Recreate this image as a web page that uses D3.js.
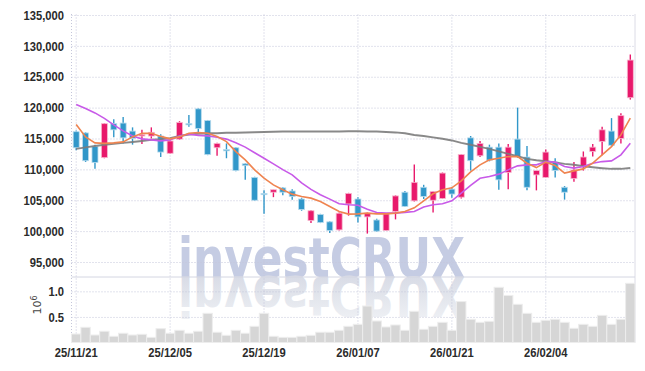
<!DOCTYPE html>
<html>
<head>
<meta charset="utf-8">
<script src="https://cdn.jsdelivr.net/npm/d3@7"></script>
<style>
  body { margin: 0; background: #fff; }
  svg { display: block; }
</style>
</head>
<body>
<div id="chart-area"></div>
<script>
// trading days (yy/mm/dd)
var dates = ["25/11/21", "25/11/24", "25/11/25", "25/11/26", "25/11/27", "25/11/28", "25/12/01", "25/12/02", "25/12/03", "25/12/04",
  "25/12/05", "25/12/08", "25/12/09", "25/12/10", "25/12/11", "25/12/12", "25/12/15", "25/12/16", "25/12/17", "25/12/18",
  "25/12/19", "25/12/22", "25/12/23", "25/12/24", "25/12/26", "25/12/29", "25/12/30", "26/01/02", "26/01/05", "26/01/06",
  "26/01/07", "26/01/08", "26/01/09", "26/01/12", "26/01/13", "26/01/14", "26/01/15", "26/01/16", "26/01/19", "26/01/20",
  "26/01/21", "26/01/22", "26/01/23", "26/01/26", "26/01/27", "26/01/28", "26/01/29", "26/01/30", "26/02/02", "26/02/03",
  "26/02/04", "26/02/05", "26/02/06", "26/02/09", "26/02/10", "26/02/11", "26/02/12", "26/02/13", "26/02/19", "26/02/20"];

var opens = [116100, 115900, 113700, 111900, 117400, 117500, 116200, 115400, 115400, 115400,
  112600, 114900, 117400, 119800, 117900, 113500, 113200, 113500, 110900, 108700,
  106100, 106300, 107000, 106500, 105200, 101700, 102700, 101500, 100200, 104400,
  105200, 102300, 101800, 100100, 103200, 106300, 104900, 107100, 105000, 105300,
  106800, 105500, 115100, 112200, 113600, 113600, 109500, 114900, 112000, 109100,
  108700, 111200, 107100, 108500, 110400, 112900, 114500, 116200, 115000, 121600];
var highs = [116300, 116000, 114000, 117500, 118100, 118500, 116800, 116400, 116800, 115700,
  114700, 117800, 118800, 119900, 118000, 114300, 114200, 113600, 111000, 108800,
  106600, 106700, 107100, 106800, 105400, 103400, 102800, 101600, 103000, 106200,
  105500, 103000, 102000, 102900, 105800, 106500, 110800, 107500, 106500, 109500,
  107000, 112500, 115400, 114600, 114000, 114200, 114100, 120000, 113800, 109800,
  113200, 111800, 107300, 111200, 112900, 114100, 116900, 118300, 119100, 128600];
var lows = [113100, 111200, 110100, 111800, 115200, 114200, 114000, 114100, 115000, 112000,
  112500, 114800, 116900, 116000, 112300, 112200, 111800, 109700, 108300, 104900,
  102800, 105500, 105800, 105100, 103300, 101300, 101300, 99700, 100100, 102500,
  101400, 99600, 99900, 100000, 101900, 103900, 104800, 105200, 103000, 105200,
  105400, 105300, 109800, 112000, 111300, 106700, 106800, 111900, 106600, 106600,
  108600, 108700, 105100, 108000, 109800, 112100, 112300, 113800, 114200, 121300];
var closes = [113500, 111400, 111100, 117400, 116400, 115100, 115000, 115600, 116000, 112800,
  114600, 117600, 117300, 116600, 112400, 114200, 113000, 109800, 110600, 105000,
  105900, 106700, 106300, 105600, 103500, 103300, 101400, 100100, 102900, 106100,
  102300, 102900, 100000, 102800, 105700, 104000, 107900, 105600, 106400, 109400,
  106000, 112400, 111400, 114200, 111500, 108300, 113600, 112100, 107100, 109800,
  112800, 109800, 106300, 109900, 112000, 113600, 116400, 113900, 118700, 127700];

// volume, millions of shares
var volumes = [0.166, 0.297, 0.146, 0.219, 0.121, 0.18, 0.146, 0.16, 0.10, 0.27,
  0.18, 0.238, 0.18, 0.219, 0.57, 0.20, 0.14, 0.238, 0.18, 0.316,
  0.57, 0.121, 0.10, 0.10, 0.121, 0.14, 0.20, 0.20, 0.238, 0.316,
  0.355, 0.713, 0.42, 0.303, 0.342, 0.238, 0.61, 0.258, 0.316, 0.394,
  0.238, 0.80, 0.453, 0.394, 0.414, 1.078, 0.92, 0.746, 0.57, 0.394,
  0.433, 0.453, 0.394, 0.277, 0.355, 0.316, 0.53, 0.355, 0.453, 1.156];

// moving averages
var maShort = [117280, 115260, 114290, 114210, 114290, 114450, 115260, 115830, 115860, 115340,
  114940, 115260, 115860, 115960, 115860, 115310, 114500, 112880, 111540, 109920,
  108580, 107490, 106690, 105990, 105600, 105340, 104790, 103980, 103170, 102750,
  102800, 102910, 102800, 102800, 102910, 103170, 103770, 104910, 106040, 106690,
  107010, 108140, 109600, 110730, 111540, 111810, 112070, 112070, 111000, 110290,
  111170, 110620, 109390, 109760, 110080, 111000, 112350, 113690, 115580, 118290];
var maMid = [120520, 119870, 119140, 118250, 117200, 116230, 115420, 114940, 114780, 114610,
  114780, 115420, 115700, 115500, 115420, 115210, 114900, 114300, 113600, 112700,
  111800, 110900, 109950, 109100, 107800, 106750, 105900, 105180, 104420, 104260,
  104180, 103560, 103010, 102910, 102910, 103040, 103170, 103890, 104260, 104420,
  104910, 106150, 107410, 108550, 108840, 109230, 109920, 110570, 110730, 110730,
  111260, 111170, 110450, 110200, 110450, 111000, 111260, 111380, 112350, 114240];
var maLong = [113320, 113560, 113800, 113970, 114130, 114290, 114450, 114610, 114780, 114890,
  115050, 115420, 115660, 115750, 115830, 115860, 115910, 115940, 115990, 116020,
  116070, 116100, 116120, 116130, 116150, 116150, 116150, 116150, 116150, 116180,
  116180, 116150, 116120, 116070, 115990, 115830, 115580, 115420, 115180, 114940,
  114690, 114290, 113970, 113640, 113320, 112910, 112510, 112110, 111700, 111460,
  111300, 111130, 110890, 110730, 110490, 110330, 110200, 110080, 110080, 110240];

var priceTicks = [95000, 100000, 105000, 110000, 115000, 120000, 125000, 130000, 135000];
var volumeTicks = [0.5, 1.0];
var dateTicks = ["25/11/21", "25/12/05", "25/12/19", "26/01/07", "26/01/21", "26/02/04"];


CandleChart = function (_parentElement) {
  this.parentElement = _parentElement;
  this.initVis();
};

CandleChart.prototype.initVis = function () {
  var vis = this;

  vis.left = 71.5;
  vis.right = 635;
  vis.top = 14;
  vis.split = 277;
  vis.bottom = 342.5;
  vis.font = '"Liberation Sans", Arial, sans-serif';

  vis.svg = d3.select(vis.parentElement)
    .append("svg")
    .attr("width", 645)
    .attr("height", 371);

  vis.xScale = d3.scaleBand()
    .domain(dates)
    .range([vis.left, vis.right]);

  vis.yScale = d3.scaleLinear()
    .domain([92570, 135160])
    .range([vis.split, vis.top]);

  vis.vScale = d3.scaleLinear()
    .domain([0, 1.28])
    .range([vis.bottom, vis.split]);

  vis.updateVis();
};

CandleChart.prototype.updateVis = function () {
  var vis = this;
  var svg = vis.svg;

  /* watermark + reflection */
  var grad = svg.append("defs").append("linearGradient")
    .attr("id", "fade")
    .attr("gradientUnits", "userSpaceOnUse")
    .attr("x1", 0).attr("x2", 0)
    .attr("y1", vis.split).attr("y2", vis.split - 42);
  grad.append("stop").attr("offset", 0).attr("stop-color", "#d9dce6");
  grad.append("stop").attr("offset", 1).attr("stop-color", "#eef0f4");

  svg.append("text")
    .attr("x", 178)
    .attr("y", vis.split)
    .attr("textLength", 287)
    .attr("lengthAdjust", "spacingAndGlyphs")
    .attr("font-family", "DejaVu Sans")
    .attr("font-weight", "bold")
    .attr("font-size", 56)
    .attr("fill", "#c5cce3")
    .text("investCRUX");

  svg.append("text")
    .attr("transform", "translate(0," + (2 * vis.split) + ") scale(1,-1)")
    .attr("x", 178)
    .attr("y", vis.split)
    .attr("textLength", 287)
    .attr("lengthAdjust", "spacingAndGlyphs")
    .attr("font-family", "DejaVu Sans")
    .attr("font-weight", "bold")
    .attr("font-size", 56)
    .attr("fill", "url(#fade)")
    .text("investCRUX");

  /* grid + axes */
  var yAxis = d3.axisLeft(vis.yScale)
    .tickValues(priceTicks)
    .tickSize(-(vis.right - vis.left))
    .tickPadding(7.5)
    .tickFormat(d3.format(","));

  var vAxis = d3.axisLeft(vis.vScale)
    .tickValues(volumeTicks)
    .tickSize(-(vis.right - vis.left))
    .tickPadding(7.5)
    .tickFormat(d3.format(".1f"));

  var xAxis = d3.axisBottom(vis.xScale)
    .tickValues(dateTicks)
    .tickSize(-(vis.bottom - vis.top))
    .tickPadding(5.5);

  var yAxisGroup = svg.append("g")
    .attr("class", "y-axis")
    .attr("transform", "translate(" + vis.left + ",0)")
    .call(yAxis);

  var vAxisGroup = svg.append("g")
    .attr("class", "v-axis")
    .attr("transform", "translate(" + vis.left + ",0)")
    .call(vAxis);

  var xAxisGroup = svg.append("g")
    .attr("class", "x-axis")
    .attr("transform", "translate(0," + vis.bottom + ")")
    .call(xAxis);

  [yAxisGroup, vAxisGroup, xAxisGroup].forEach(function (g) {
    g.select(".domain").remove();
    g.selectAll(".tick line")
      .attr("stroke", "#c4c6da")
      .attr("stroke-dasharray", "1,2");
    g.selectAll(".tick text")
      .attr("font-family", vis.font)
      .attr("font-weight", "bold")
      .attr("font-size", 13)
      .attr("fill", "#2b2b2b")
      .each(function () {
        // squeeze the labels into a condensed look
        var w = this.getComputedTextLength();
        d3.select(this)
          .attr("textLength", w * 0.86)
          .attr("lengthAdjust", "spacingAndGlyphs");
      });
  });

  // frame pieces
  svg.append("line")
    .attr("x1", vis.left).attr("x2", vis.left)
    .attr("y1", vis.top).attr("y2", vis.bottom)
    .attr("stroke", "#c4c6da")
    .attr("stroke-dasharray", "1,2");
  svg.append("line")
    .attr("x1", vis.right).attr("x2", vis.right)
    .attr("y1", vis.top).attr("y2", vis.bottom)
    .attr("stroke", "#dcdce6");
  svg.append("line")
    .attr("x1", vis.left).attr("x2", vis.right)
    .attr("y1", vis.split).attr("y2", vis.split)
    .attr("stroke", "#d4d6e2");

  // 10^6 unit label
  var unit = svg.append("text")
    .attr("transform", "translate(40.5,305) rotate(-90)")
    .attr("text-anchor", "middle")
    .attr("font-family", "DejaVu Sans")
    .attr("font-size", 11)
    .attr("fill", "#444");
  unit.append("tspan").text("10");
  unit.append("tspan").attr("dy", -4).attr("font-size", 8).text("6");

  /* volume bars */
  svg.append("g")
    .attr("class", "volume")
    .selectAll("rect")
    .data(volumes).enter()
    .append("rect")
    .attr("x", (d, i) => vis.xScale(dates[i]))
    .attr("width", vis.xScale.bandwidth())
    .attr("y", d => vis.vScale(d))
    .attr("height", d => vis.vScale(0) - vis.vScale(d))
    .attr("fill", "#d6d6d6")
    .attr("stroke", "#ededed")
    .attr("stroke-width", 1);

  /* candles */
  var up = "#e8196b", down = "#3197c9";
  var bw = 6;
  var candles = svg.append("g")
    .attr("class", "candles")
    .selectAll("g")
    .data(dates).enter()
    .append("g");

  candles.append("line")
    .attr("x1", (d, i) => vis.xScale(d) + vis.xScale.bandwidth() / 2)
    .attr("x2", (d, i) => vis.xScale(d) + vis.xScale.bandwidth() / 2)
    .attr("y1", (d, i) => vis.yScale(highs[i]))
    .attr("y2", (d, i) => vis.yScale(lows[i]))
    .attr("stroke", (d, i) => closes[i] >= opens[i] ? up : down)
    .attr("stroke-width", 1.4);

  candles.append("rect")
    .attr("x", (d, i) => vis.xScale(d) + vis.xScale.bandwidth() / 2 - bw / 2)
    .attr("width", bw)
    .attr("y", (d, i) => vis.yScale(Math.max(opens[i], closes[i])))
    .attr("height", (d, i) => Math.max(1.2, Math.abs(vis.yScale(opens[i]) - vis.yScale(closes[i]))))
    .attr("fill", (d, i) => closes[i] >= opens[i] ? up : down)
    .attr("stroke", (d, i) => closes[i] >= opens[i] ? "#f7b9d0" : "#b9dcee")
    .attr("stroke-width", 0.8);

  /* moving average lines */
  var line = d3.line()
    .x((d, i) => vis.xScale(dates[i]) + vis.xScale.bandwidth() / 2)
    .y(d => vis.yScale(d));

  var maLines = [
    { values: maLong, color: "#7c7c7c", width: 2, opacity: 0.9 },
    { values: maMid, color: "#c85ae8", width: 1.6, opacity: 1 },
    { values: maShort, color: "#ef8450", width: 1.6, opacity: 1 }
  ];

  svg.append("g")
    .attr("class", "lines")
    .selectAll("path")
    .data(maLines).enter()
    .append("path")
    .attr("d", d => line(d.values))
    .attr("fill", "none")
    .attr("stroke", d => d.color)
    .attr("stroke-width", d => d.width)
    .attr("stroke-opacity", d => d.opacity);
};

var chart = new CandleChart("#chart-area");
</script>
</body>
</html>
